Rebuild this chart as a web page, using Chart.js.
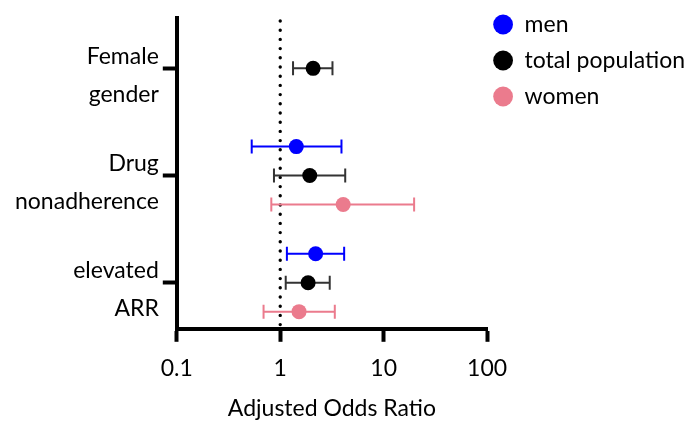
<!DOCTYPE html>
<html>
<head>
<meta charset="utf-8">
<script src="https://cdn.jsdelivr.net/npm/chart.js@4"></script>
<style>
  html, body { margin: 0; padding: 0; background: #fff; }
  #wrap { width: 697px; height: 423px; }
</style>
</head>
<body>
<div id="wrap"><canvas id="c" width="697" height="423"></canvas></div>
<script>
// ---- data ----
const categoryLabels = [['Female', 'gender'], ['Drug', 'nonadherence'], ['elevated', 'ARR']];
const xTickValues = [0.1, 1, 10, 100];
const seriesNames = ['men', 'total population', 'women'];

const menOR    = [null, 1.43, 2.20];
const menLow   = [null, 0.53, 1.16];
const menHigh  = [null, 3.91, 4.15];

const totalOR   = [2.08, 1.93, 1.86];
const totalLow  = [1.33, 0.87, 1.13];
const totalHigh = [3.20, 4.25, 3.01];

const womenOR   = [null, 4.06, 1.52];
const womenLow  = [null, 0.82, 0.69];
const womenHigh = [null, 19.7, 3.37];

const referenceLine = 1;

// ---- styling ----
const FONT = 'Lato, "Open Sans", sans-serif';
const FS = 23;
const colors = ['#0000ff', '#000000', '#eb7b8d'];
const barColors = ['#0000ff', '#333333', '#eb7b8d'];
const offsets = [-0.27, 0, 0.27];

const seriesOR = [menOR, totalOR, womenOR];
const seriesLow = [menLow, totalLow, womenLow];
const seriesHigh = [menHigh, totalHigh, womenHigh];

const datasets = seriesNames.map((name, s) => ({
  label: name,
  data: seriesOR[s].map((v, i) => v == null ? null : { x: v, y: i + offsets[s], lo: seriesLow[s][i], hi: seriesHigh[s][i] }).filter(p => p),
  backgroundColor: colors[s],
  borderColor: colors[s],
  pointStyle: 'circle',
  pointRadius: 7.5,
  pointHoverRadius: 7.5,
  borderWidth: 0,
  showLine: false,
  barColor: barColors[s]
}));

const errorBars = {
  id: 'errorBars',
  beforeDatasetsDraw(chart) {
    const { ctx, chartArea, scales: { x, y } } = chart;
    // dotted reference line
    const px = x.getPixelForValue(referenceLine);
    ctx.save();
    ctx.strokeStyle = '#000';
    ctx.lineWidth = 3.4;
    ctx.lineCap = 'round';
    ctx.setLineDash([0, 9.2]);
    ctx.beginPath();
    ctx.moveTo(px, chartArea.top + 3);
    ctx.lineTo(px, chartArea.bottom);
    ctx.stroke();
    ctx.restore();
    // whiskers
    chart.data.datasets.forEach(ds => {
      ctx.save();
      ctx.strokeStyle = ds.barColor;
      ctx.lineWidth = 2;
      ds.data.forEach(p => {
        const yy = y.getPixelForValue(p.y);
        const x1 = x.getPixelForValue(p.lo);
        const x2 = x.getPixelForValue(p.hi);
        ctx.beginPath();
        ctx.moveTo(x1, yy); ctx.lineTo(x2, yy);
        ctx.moveTo(x1, yy - 7); ctx.lineTo(x1, yy + 7);
        ctx.moveTo(x2, yy - 7); ctx.lineTo(x2, yy + 7);
        ctx.stroke();
      });
      ctx.restore();
    });
  }
};

new Chart(document.getElementById('c'), {
  type: 'scatter',
  data: { datasets },
  plugins: [errorBars],
  options: {
    responsive: false,
    animation: false,
    layout: { padding: { left: 11, right: 2, top: 7, bottom: 0 } },
    plugins: {
      tooltip: { enabled: false },
      legend: {
        position: 'right',
        align: 'start',
        maxWidth: 300,
        labels: {
          usePointStyle: true,
          boxWidth: 20,
          boxHeight: 14,
          padding: 6,
          color: '#000',
          font: { family: FONT, size: FS, lineHeight: '30px' },
          generateLabels: chart => Chart.defaults.plugins.legend.labels.generateLabels(chart).map(l => Object.assign(l, { text: [l.text] }))
        }
      }
    },
    scales: {
      x: {
        type: 'logarithmic',
        min: 0.1,
        max: 100,
        afterBuildTicks: axis => { axis.ticks = xTickValues.map(v => ({ value: v })); },
        ticks: {
          color: '#000',
          font: { family: FONT, size: FS },
          padding: 13,
          autoSkip: false,
          maxRotation: 0,
          callback: v => String(v)
        },
        grid: { drawOnChartArea: false, drawTicks: true, tickLength: 13, tickWidth: 4, tickColor: '#000' },
        border: { display: true, color: '#000', width: 4 },
        title: { display: true, text: 'Adjusted Odds Ratio', color: '#000', font: { family: FONT, size: FS }, padding: { top: -1, bottom: 1 } }
      },
      y: {
        type: 'linear',
        reverse: true,
        min: -0.47,
        max: 2.43,
        afterBuildTicks: axis => { axis.ticks = categoryLabels.map((_, i) => ({ value: i })); },
        afterFit: axis => { axis.paddingTop = 18; axis.paddingBottom = 0; },
        ticks: {
          color: '#000',
          font: { family: FONT, size: FS, lineHeight: 1.63 },
          padding: 4,
          labelOffset: 7,
          autoSkip: false,
          callback: v => categoryLabels[v]
        },
        grid: { drawOnChartArea: false, drawTicks: true, tickLength: 14, tickWidth: 4, tickColor: '#000' },
        border: { display: true, color: '#000', width: 4 }
      }
    }
  }
});
</script>
</body>
</html>
